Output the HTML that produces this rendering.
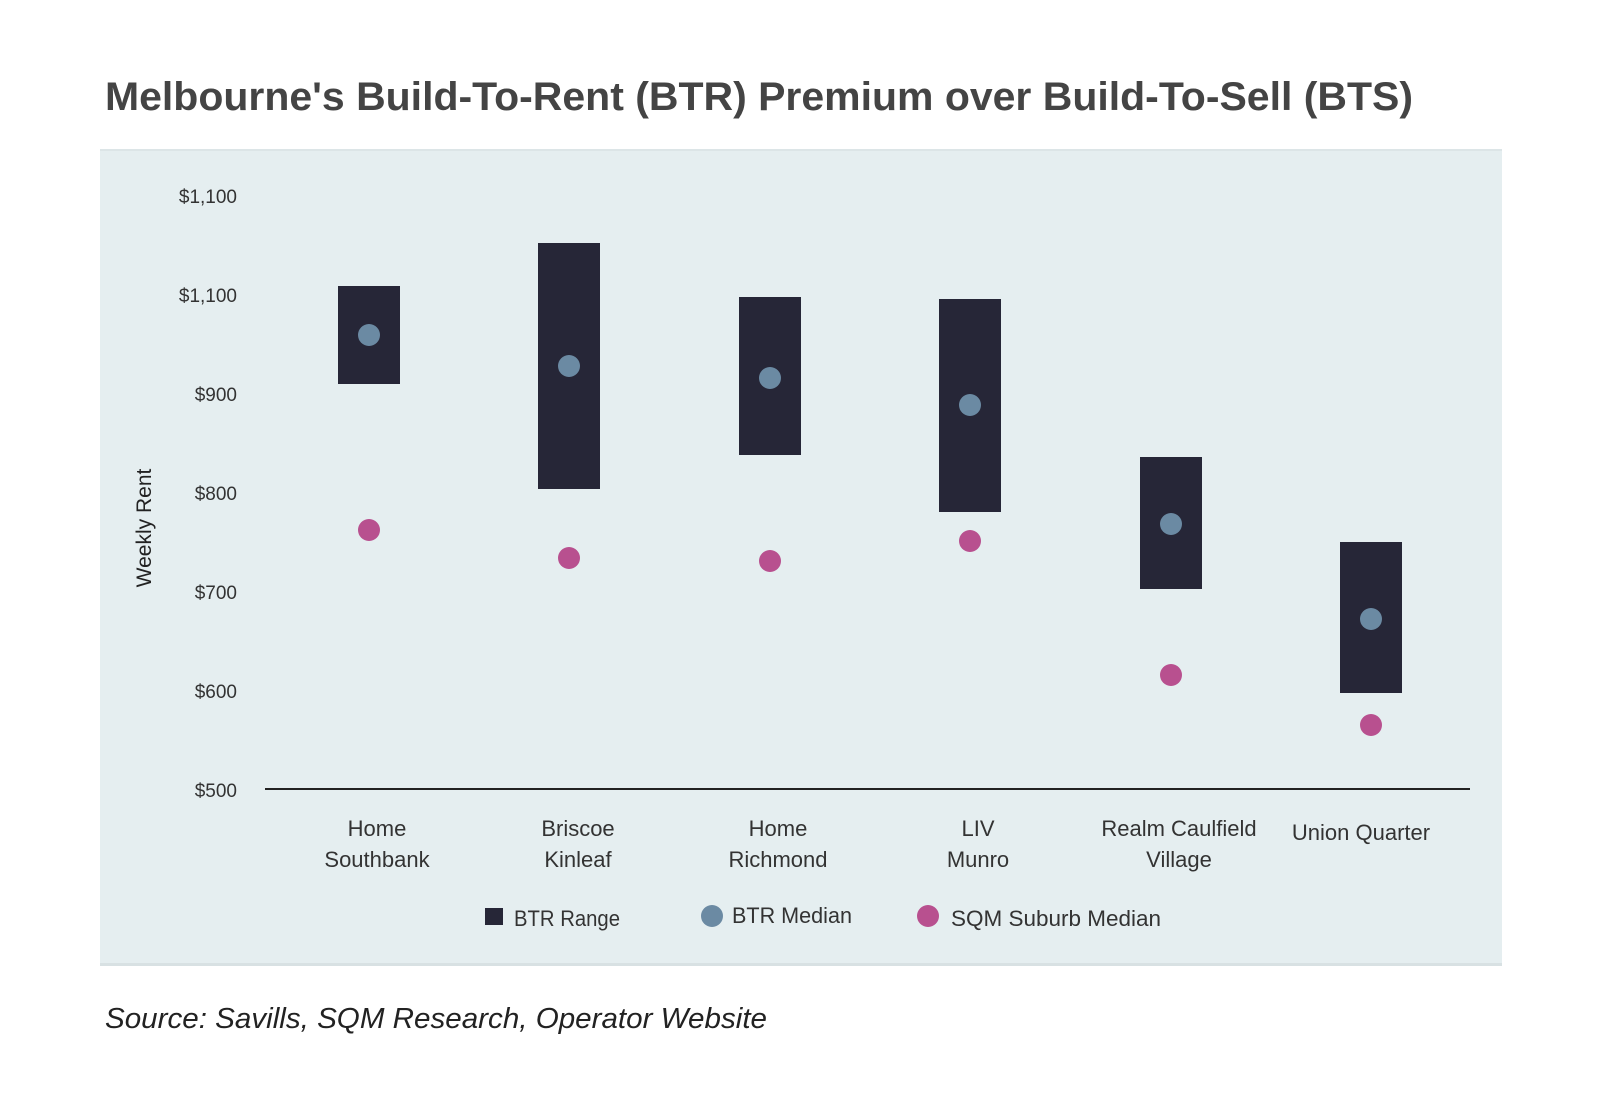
<!DOCTYPE html>
<html><head><style>
body{margin:0;background:#fff;width:1600px;height:1100px;overflow:hidden;font-family:"Liberation Sans",sans-serif}
</style></head><body>
<svg width="1600" height="1100" xmlns="http://www.w3.org/2000/svg" font-family="Liberation Sans, sans-serif">
<text x="105" y="110" font-size="40" font-weight="bold" fill="#444" textLength="1308" lengthAdjust="spacingAndGlyphs">Melbourne's Build-To-Rent (BTR) Premium over Build-To-Sell (BTS)</text>
<rect x="100" y="149" width="1402" height="817" fill="#e5eef0"/>
<rect x="100" y="149" width="1402" height="2" fill="#dce5e7"/>
<rect x="100" y="963" width="1402" height="3" fill="#d8e1e3"/>
<g font-size="19" fill="#333" text-anchor="end">
<text x="237" y="203">$1,100</text><text x="237" y="302">$1,100</text><text x="237" y="401">$900</text>
<text x="237" y="500">$800</text><text x="237" y="599">$700</text><text x="237" y="698">$600</text><text x="237" y="797">$500</text>
</g>
<text transform="translate(151,528) rotate(-90)" font-size="21" fill="#222" text-anchor="middle">Weekly Rent</text>
<line x1="265" y1="789" x2="1470" y2="789" stroke="#222" stroke-width="2"/>
<g fill="#262637">
<rect x="338" y="286" width="62" height="98"/><rect x="538" y="243" width="62" height="246"/>
<rect x="739" y="297" width="62" height="158"/><rect x="939" y="299" width="62" height="213"/>
<rect x="1140" y="457" width="62" height="132"/><rect x="1340" y="542" width="62" height="151"/>
</g>
<g fill="#6b8aa3">
<circle cx="369" cy="335" r="11"/><circle cx="569" cy="366" r="11"/><circle cx="770" cy="378" r="11"/>
<circle cx="970" cy="405" r="11"/><circle cx="1171" cy="524" r="11"/><circle cx="1371" cy="619" r="11"/>
</g>
<g fill="#b8508f">
<circle cx="369" cy="530" r="11"/><circle cx="569" cy="558" r="11"/><circle cx="770" cy="561" r="11"/>
<circle cx="970" cy="541" r="11"/><circle cx="1171" cy="675" r="11"/><circle cx="1371" cy="725" r="11"/>
</g>
<g font-size="22" fill="#333" text-anchor="middle">
<text x="377" y="836">Home</text><text x="377" y="867">Southbank</text>
<text x="578" y="836">Briscoe</text><text x="578" y="867">Kinleaf</text>
<text x="778" y="836">Home</text><text x="778" y="867">Richmond</text>
<text x="978" y="836">LIV</text><text x="978" y="867">Munro</text>
<text x="1179" y="836">Realm Caulfield</text><text x="1179" y="867">Village</text>
<text x="1361" y="840">Union Quarter</text>
</g>
<rect x="485" y="908" width="18" height="17" fill="#262637"/>
<text x="514" y="926" font-size="22" fill="#333" textLength="106" lengthAdjust="spacingAndGlyphs">BTR Range</text>
<circle cx="712" cy="916" r="11" fill="#6b8aa3"/>
<text x="732" y="923" font-size="22" fill="#333" textLength="120" lengthAdjust="spacingAndGlyphs">BTR Median</text>
<circle cx="928" cy="916" r="11" fill="#b8508f"/>
<text x="951" y="926" font-size="22" fill="#333" textLength="210" lengthAdjust="spacingAndGlyphs">SQM Suburb Median</text>
<text x="105" y="1028" font-size="29" font-style="italic" fill="#222" textLength="662" lengthAdjust="spacingAndGlyphs">Source: Savills, SQM Research, Operator Website</text>
</svg>
</body></html>
